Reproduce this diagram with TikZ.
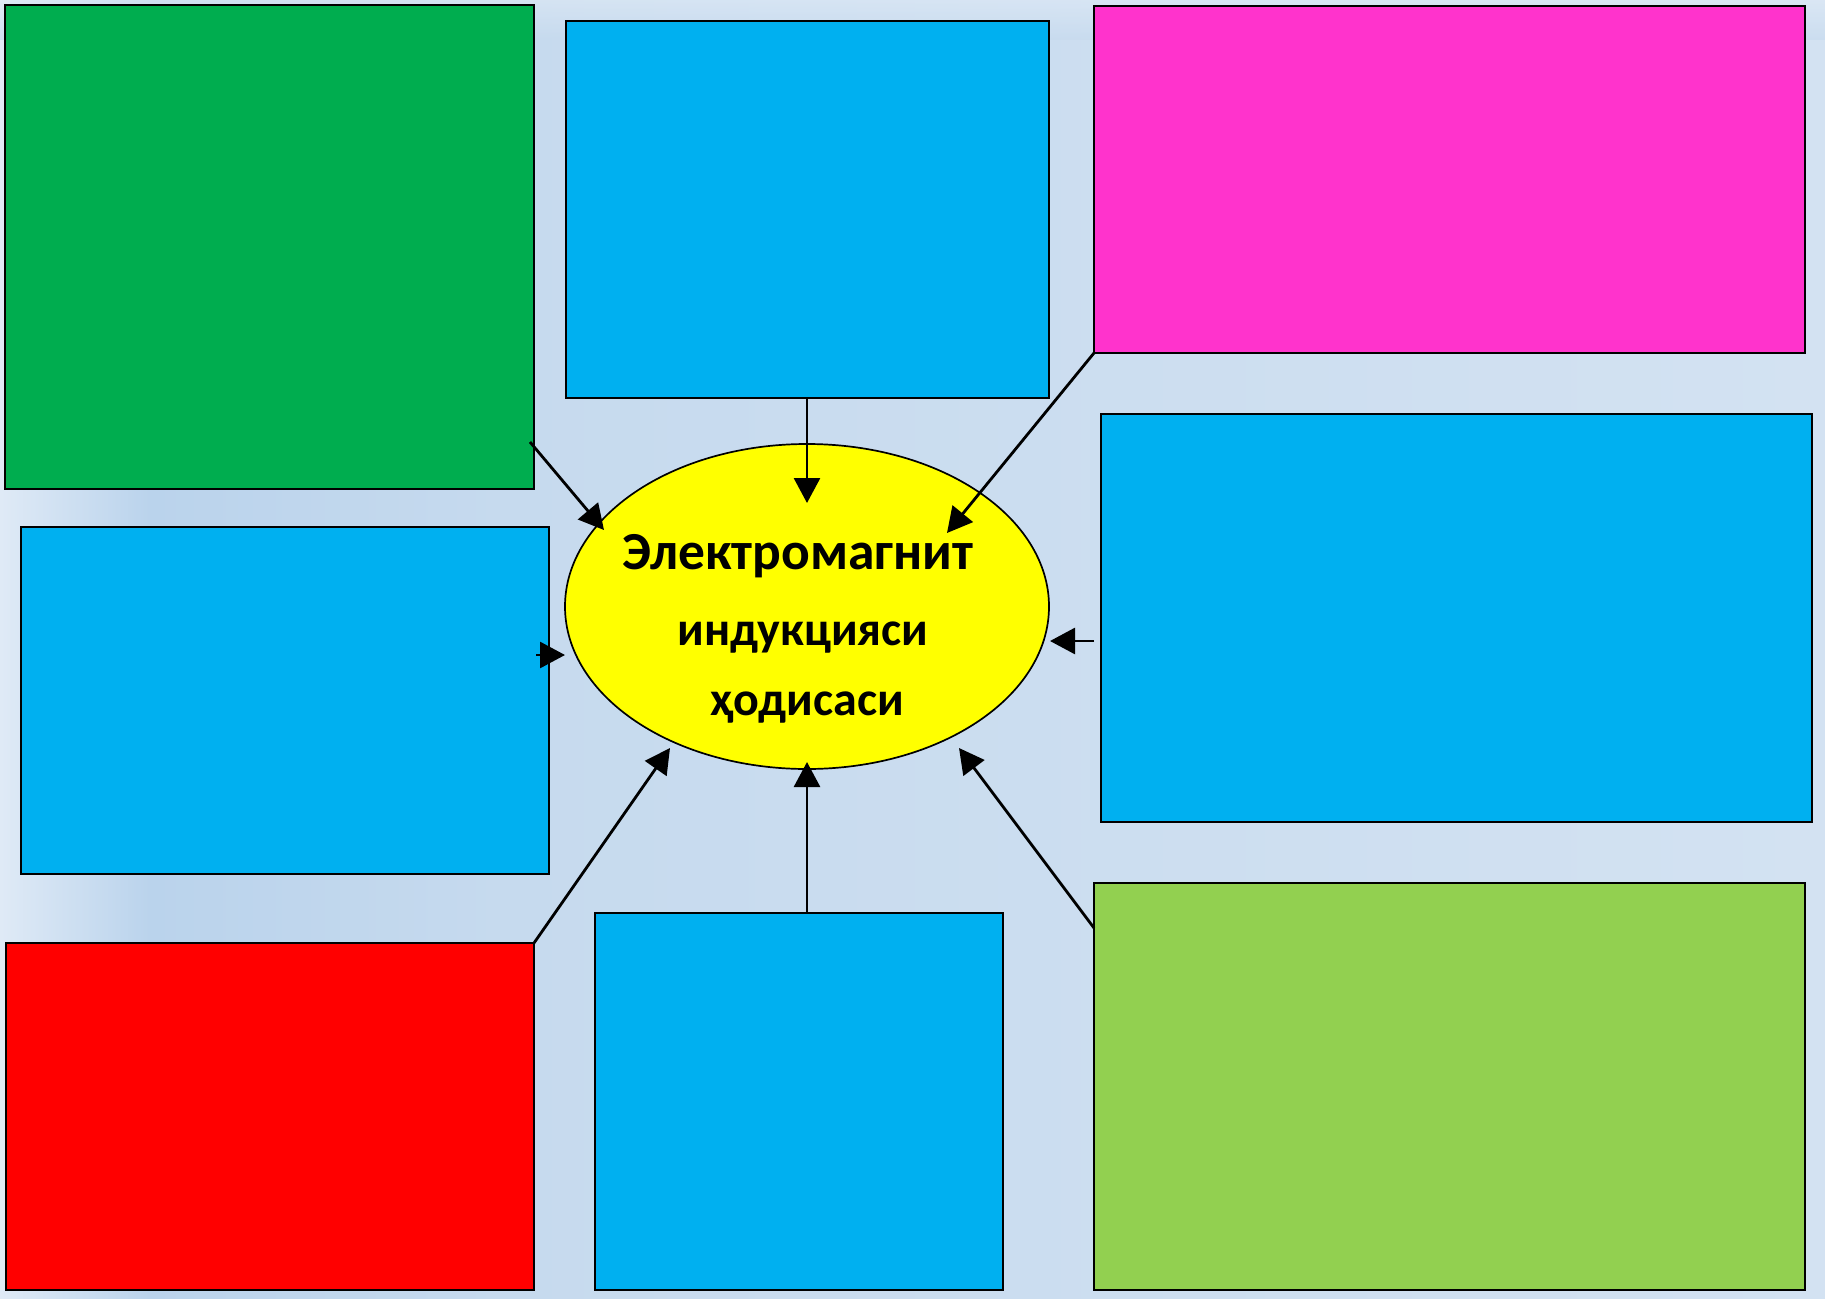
\documentclass[tikz,border=0pt]{standalone}
\usepackage{fontspec}
\setmainfont{Carlito}
\usetikzlibrary{arrows.meta,shapes.geometric}
\definecolor{bgL}{HTML}{DFEAF6}
\definecolor{bgD}{HTML}{BAD3EC}
\definecolor{bgM}{HTML}{C6DAEE}
\definecolor{bgR}{HTML}{D3E2F2}
\definecolor{cGreen}{HTML}{00AD4F}
\definecolor{cBlue}{HTML}{00B0F0}
\definecolor{cMag}{HTML}{FF33CC}
\definecolor{cRed}{HTML}{FF0000}
\definecolor{cLime}{HTML}{92D050}
\definecolor{cYel}{HTML}{FFFF00}
\tikzset{
  box/.style={draw=black, line width=1.7pt, inner sep=0pt, outer sep=0pt, anchor=north west},
  arr/.style={line width=2.8pt, -{Triangle[length=25pt,width=26pt]}},
}
\begin{document}
\begin{tikzpicture}[x=1pt,y=-1pt]
\useasboundingbox (0,0) rectangle (1825,1298);
% background
\shade[left color=bgL, right color=bgD] (0,0) rectangle (150,1298);
\shade[left color=bgD, right color=bgM] (150,0) rectangle (500,1298);
\shade[left color=bgM, right color=bgR] (500,0) rectangle (1825,1298);
\shade[top color=bgL, bottom color=bgM, opacity=0.6] (0,0) rectangle (1825,40);
% boxes
\node[box, fill=cGreen, minimum width=529pt, minimum height=484pt] (g) at (5,5) {};
\node[box, fill=cBlue, minimum width=483pt, minimum height=377pt] (bt) at (566,21) {};
\node[box, fill=cMag, minimum width=711pt, minimum height=347pt] (mg) at (1094,6) {};
\node[box, fill=cBlue, minimum width=528pt, minimum height=347pt] (bl) at (21,527) {};
\node[box, fill=cBlue, minimum width=711pt, minimum height=408pt] (br) at (1101,414) {};
\node[box, fill=cRed, minimum width=528pt, minimum height=347pt] (rd) at (6,943) {};
\node[box, fill=cBlue, minimum width=408pt, minimum height=377pt] (bb) at (595,913) {};
\node[box, fill=cLime, minimum width=711pt, minimum height=407pt] (lg) at (1094,883) {};
% ellipse
\node[ellipse, draw=black, line width=1.7pt, fill=cYel, inner sep=0pt,
      minimum width=484pt, minimum height=325pt] (el) at (807,606.5) {};
\node[align=center, inner sep=0pt, font=\bfseries\fontsize{48}{74}\selectfont] (ttl) at (803,629)
  {{\fontsize{53.5}{74}\selectfont Электромагнит}\hspace*{10pt}\\[2pt]индукцияси\\[-4pt]\hspace*{8pt}ҳодисаси};
% connector ends
\coordinate (gt) at (530,442);
\coordinate (t1) at (604,530);
\coordinate (t2) at (807,503);
\coordinate (t3) at (947,533);
\coordinate (blt) at (536,655);
\coordinate (t4) at (565,655);
\coordinate (brt) at (1094,641);
\coordinate (t5) at (1050,641);
\coordinate (t6) at (670,748);
\coordinate (bbt) at (807,913);
\coordinate (t7) at (807,762);
\coordinate (lgt) at (1094,928);
\coordinate (t8) at (959,748);
% connectors
\draw[arr] (gt) -- (t1);
\draw[arr] (bt.south -| t2) -- (t2);
\draw[arr] (mg.south west) -- (t3);
\draw[arr] (blt) -- (t4);
\draw[arr] (brt) -- (t5);
\draw[arr] (rd.north east) -- (t6);
\draw[arr] (bbt) -- (t7);
\draw[arr] (lgt) -- (t8);
\end{tikzpicture}
\end{document}
